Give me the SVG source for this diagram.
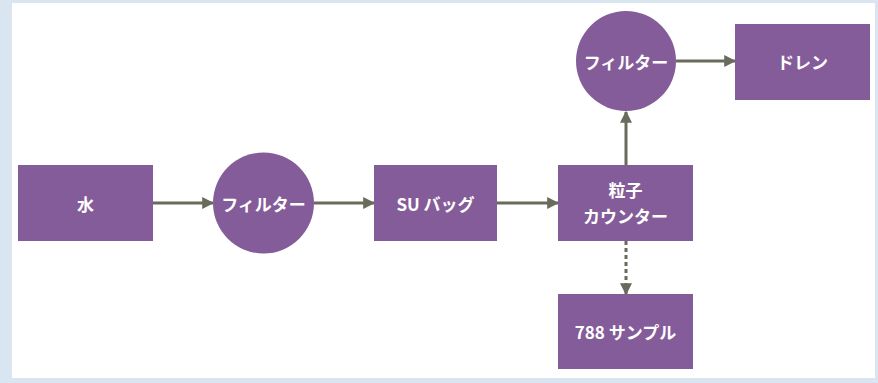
<svg xmlns="http://www.w3.org/2000/svg" width="878" height="383" viewBox="0 0 878 383">
<style>
.n{fill:#845c99}
.t{fill:#fff;font-family:"Noto Sans CJK JP","Noto Sans",sans-serif;font-weight:bold;font-size:17px;text-anchor:middle;dominant-baseline:central}
.c{stroke:#6a6b5c;stroke-width:3;fill:none;marker-end:url(#ah)}
.d{stroke-dasharray:4 3}
</style>
<defs>
<marker id="ah" viewBox="0 0 10 10" refX="9" refY="5" markerWidth="4" markerHeight="4" orient="auto" markerUnits="strokeWidth">
<path d="M0,0 L10,5 L0,10 z" fill="#6a6b5c"/>
</marker>
</defs>
<rect x="0" y="0" width="878" height="383" fill="#d9e5f0"/>
<rect x="12" y="3" width="863" height="375" fill="#fff"/>
<g id="connectors">
<line class="c" x1="153" y1="203" x2="213" y2="203"/>
<line class="c" x1="314" y1="203" x2="374" y2="203"/>
<line class="c" x1="497" y1="203" x2="558" y2="203"/>
<line class="c" x1="626" y1="165" x2="626" y2="112"/>
<line class="c" x1="676" y1="61" x2="735" y2="61"/>
<line class="c d" x1="626" y1="241" x2="626" y2="294"/>
</g>
<g id="water"><rect class="n" x="18" y="165" width="135" height="76"/><text class="t" x="85.5" y="203">水</text></g>
<g id="filter1"><circle class="n" cx="263.5" cy="203" r="50.5"/><text class="t" x="263.5" y="203">フィルター</text></g>
<g id="subag"><rect class="n" x="374" y="165" width="123" height="76"/><text class="t" x="435.5" y="203">SU バッグ</text></g>
<g id="counter"><rect class="n" x="558" y="165" width="135" height="76"/><text class="t" x="625.5" y="189">粒子</text><text class="t" x="625.5" y="215">カウンター</text></g>
<g id="sample"><rect class="n" x="558" y="294" width="135" height="75"/><text class="t" x="625.5" y="331.5">788 サンプル</text></g>
<g id="filter2"><circle class="n" cx="626" cy="61" r="50"/><text class="t" x="626" y="61">フィルター</text></g>
<g id="drain"><rect class="n" x="735" y="24" width="135" height="76"/><text class="t" x="802.5" y="61">ドレン</text></g>
</svg>
